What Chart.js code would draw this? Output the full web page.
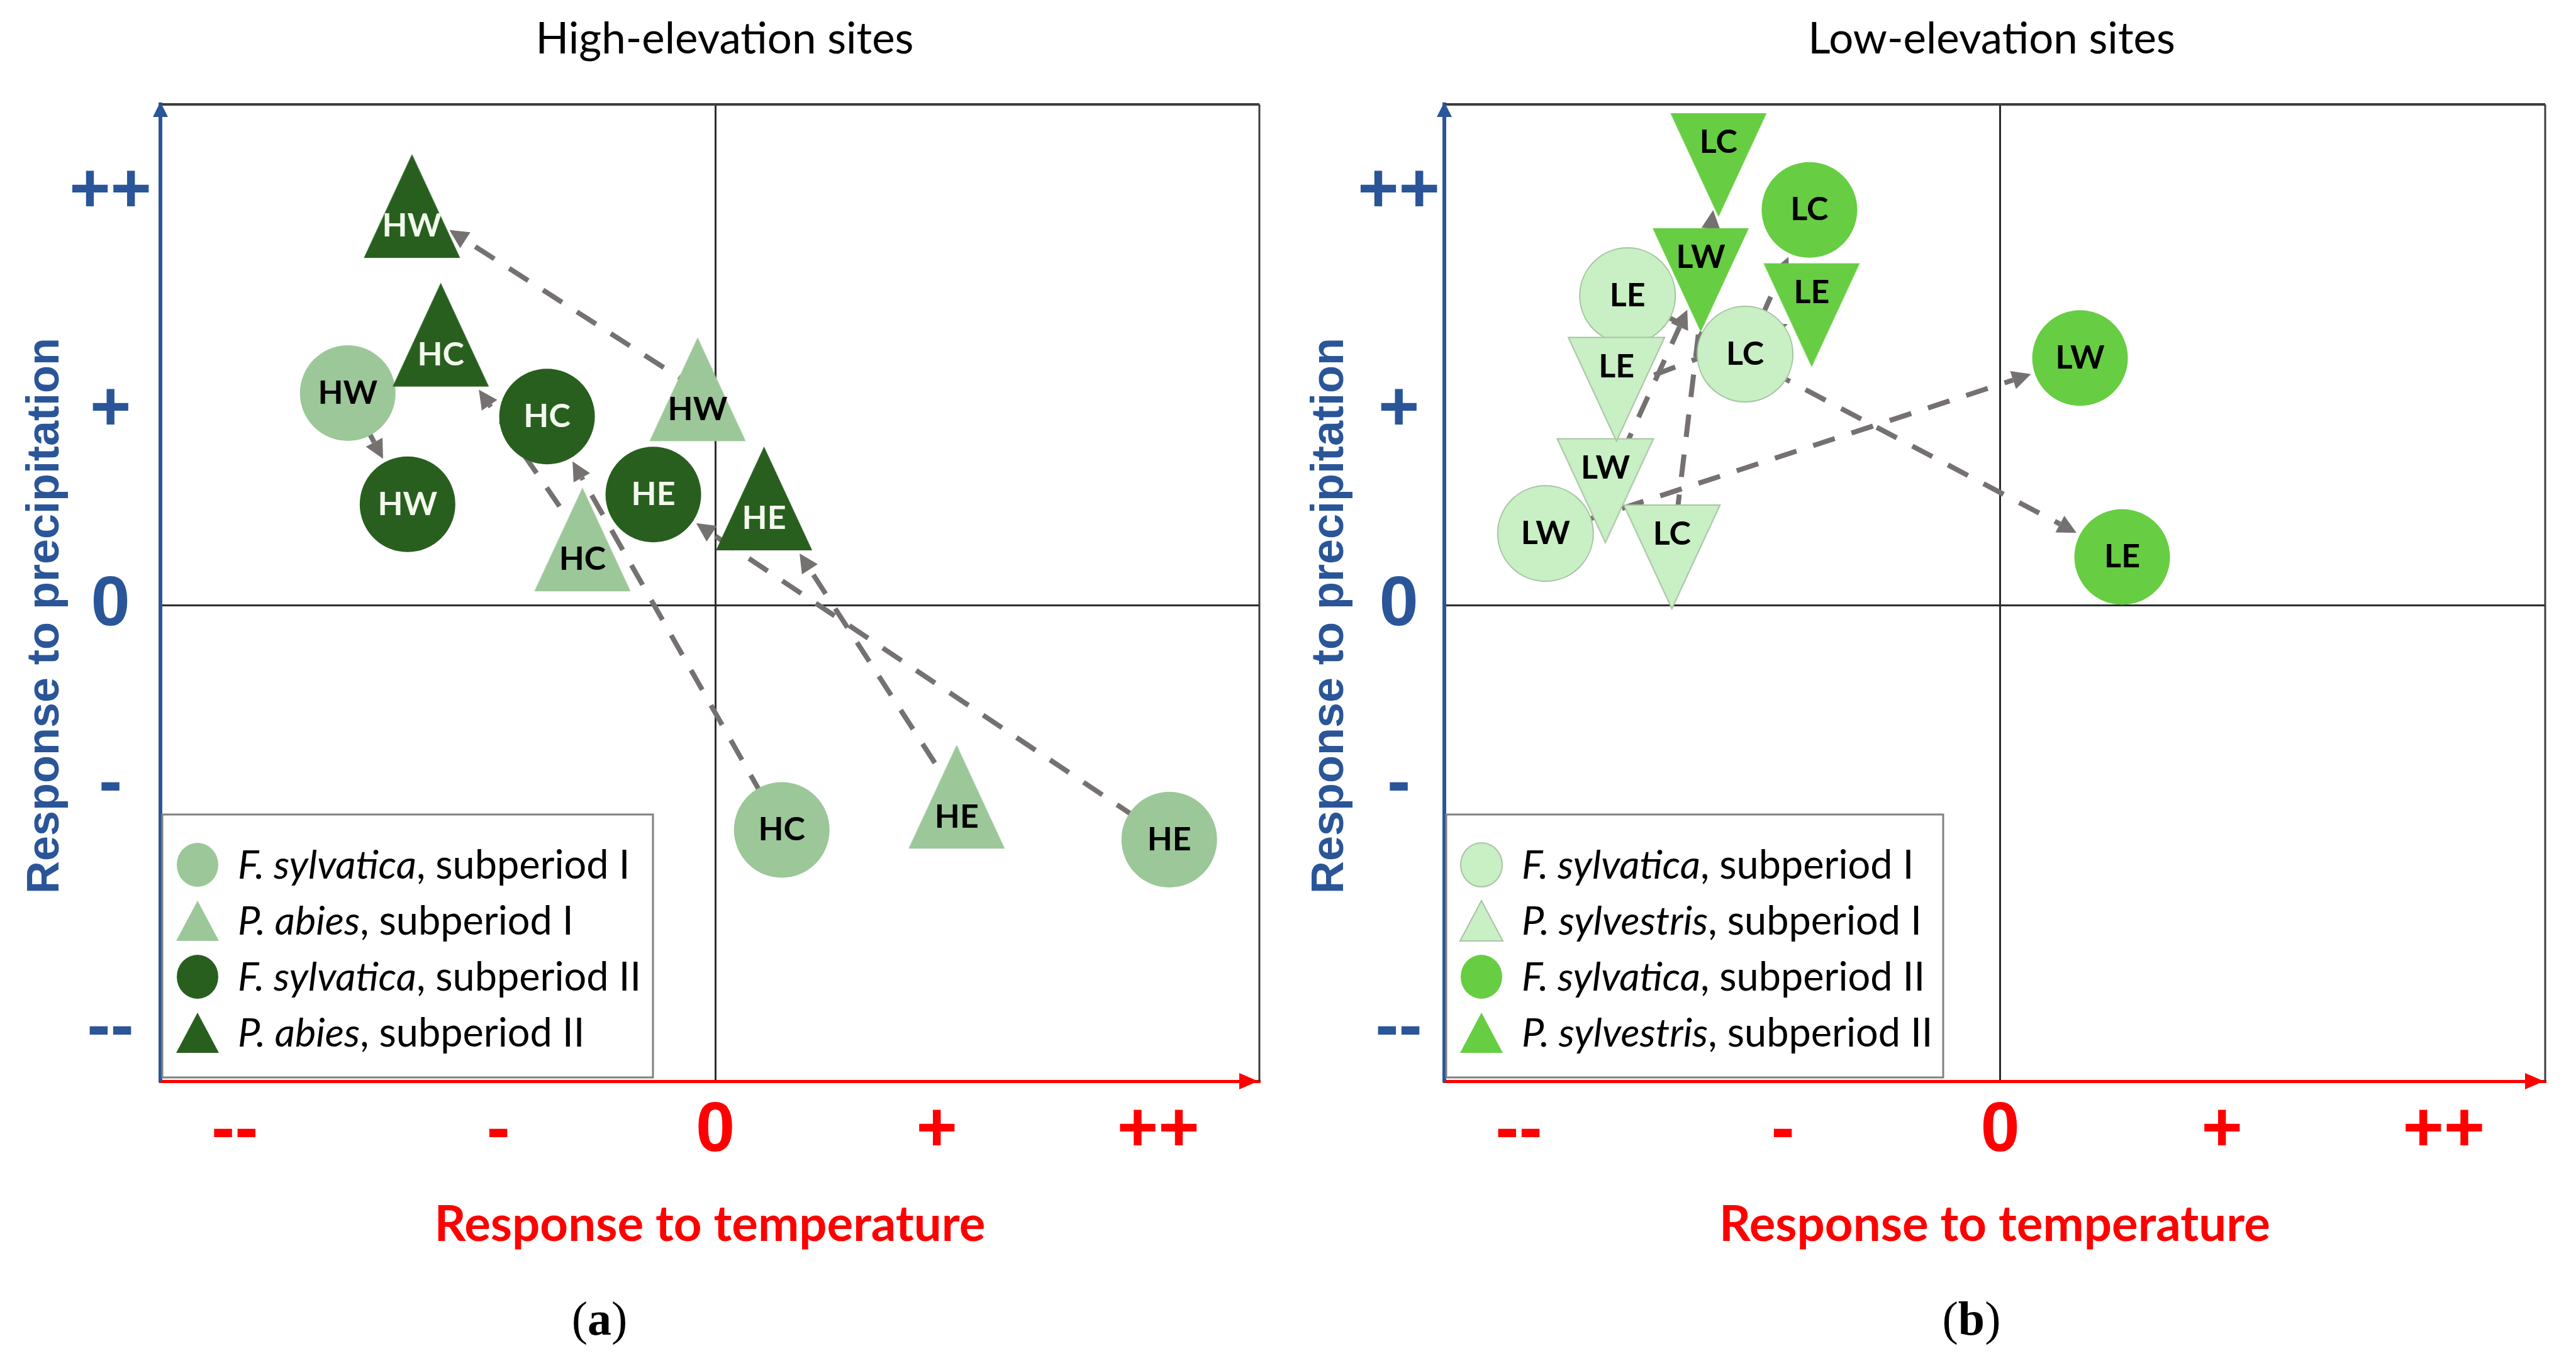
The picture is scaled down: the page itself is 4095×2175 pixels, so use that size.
<!DOCTYPE html>
<html>
<head>
<meta charset="utf-8">
<title>Responses to temperature and precipitation</title>
<script src="https://cdn.jsdelivr.net/npm/chart.js@4.4.1/dist/chart.umd.min.js"></script>
<style>
  html, body { margin: 0; padding: 0; background: #fff; }
  body { width: 4095px; height: 2175px; position: relative; overflow: hidden; }
  .panel { position: absolute; top: 0; height: 2175px; }
  #panel-a { left: 0; width: 2048px; }
  #panel-b { left: 2048px; width: 2047px; }
</style>
</head>
<body>
<div class="panel" id="panel-a"><canvas id="chart-a"></canvas></div>
<div class="panel" id="panel-b"><canvas id="chart-b"></canvas></div>
<script>
const xTickValues = [-2.17, -0.98, 0, 1, 2];
const xTickLabels = ['--', '-', '0', '+', '++'];
const yTickValues = [-2.17, -0.92, 0, 1, 2.12];
const yTickLabels = ['--', '-', '0', '+', '++'];

// high-elevation sites, [temperature, precipitation]
const highCodes = ['HW', 'HC', 'HE'];
const highFagusI = [[-1.66, 1.09], [0.30, -1.15], [2.05, -1.20]];
const highPiceaI = [[-0.08, 1.11], [-0.60, 0.34], [1.09, -0.98]];
const highFagusII = [[-1.39, 0.52], [-0.76, 0.97], [-0.28, 0.57]];
const highPiceaII = [[-1.37, 2.05], [-1.24, 1.39], [0.22, 0.55]];

// low-elevation sites
const lowCodes = ['LW', 'LC', 'LE'];
const lowFagusI = [[-2.05, 0.37], [-1.15, 1.29], [-1.68, 1.59]];
const lowPinusI = [[-1.78, 0.59], [-1.48, 0.25], [-1.73, 1.11]];
const lowFagusII = [[0.36, 1.27], [-0.86, 2.03], [0.55, 0.25]];
const lowPinusII = [[-1.35, 1.67], [-1.27, 2.26], [-0.85, 1.49]];

const BLUE = '#2a5598';
const RED = '#ff0000';
const ARROW = '#767171';
const TRI_W = 153;
const TRI_H = 165;
const CIRCLE_R = 76;

function triangleImage(fill, stroke, down) {
  const c = document.createElement('canvas');
  c.width = TRI_W + 4;
  c.height = TRI_H + 4;
  const g = c.getContext('2d');
  g.beginPath();
  if (down) {
    g.moveTo(2, 2);
    g.lineTo(TRI_W + 2, 2);
    g.lineTo(TRI_W / 2 + 2, TRI_H + 2);
  } else {
    g.moveTo(TRI_W / 2 + 2, 2);
    g.lineTo(TRI_W + 2, TRI_H + 2);
    g.lineTo(2, TRI_H + 2);
  }
  g.closePath();
  g.fillStyle = fill;
  g.fill();
  if (stroke) {
    g.strokeStyle = stroke;
    g.lineWidth = 2;
    g.stroke();
  }
  return c;
}

function series(species, period, points, codes, shape, fill, stroke, textColor) {
  return {
    label: `${species}, subperiod ${period}`,
    legendItalic: species,
    legendRest: `, subperiod ${period}`,
    data: points.map(([x, y]) => ({ x, y })),
    codes,
    shape,
    fillColor: fill,
    strokeColor: stroke,
    labelColor: textColor,
    order: shape === 'circle' ? 1 : 0,
    clip: false,
    showLine: false,
    pointStyle: shape === 'circle' ? 'circle' : triangleImage(fill, stroke, shape === 'down'),
    pointRadius: CIRCLE_R,
    pointHoverRadius: CIRCLE_R,
    pointBackgroundColor: fill,
    pointBorderColor: stroke || fill,
    pointBorderWidth: stroke ? 2 : 0,
  };
}

function edgeDistance(shape, dx, dy) {
  if (shape === 'circle') return CIRCLE_R;
  const h = TRI_H / 2;
  const w = TRI_W / 2;
  const pts = shape === 'up' ? [[0, -h], [w, h], [-w, h]] : [[0, h], [w, -h], [-w, -h]];
  let best = Infinity;
  for (let k = 0; k < 3; k++) {
    const [ax, ay] = pts[k];
    const [bx, by] = pts[(k + 1) % 3];
    const ex = bx - ax;
    const ey = by - ay;
    const den = dx * ey - dy * ex;
    if (Math.abs(den) < 1e-9) continue;
    const t = (ax * ey - ay * ex) / den;
    const s = (ax * dy - ay * dx) / den;
    if (t > 0 && s >= -0.001 && s <= 1.001) best = Math.min(best, t);
  }
  return best === Infinity ? CIRCLE_R : best;
}

function drawArrow(ctx, from, to, shape) {
  const len = Math.hypot(from.x - to.x, from.y - to.y);
  const ux = (from.x - to.x) / len;
  const uy = (from.y - to.y) / len;
  const edge = edgeDistance(shape, ux, uy) + 6;
  const tipX = to.x + ux * edge;
  const tipY = to.y + uy * edge;
  const baseX = tipX + ux * 30;
  const baseY = tipY + uy * 30;

  ctx.save();
  ctx.strokeStyle = ARROW;
  ctx.fillStyle = ARROW;
  ctx.lineWidth = 8;
  ctx.setLineDash([36, 28]);
  ctx.beginPath();
  ctx.moveTo(from.x, from.y);
  ctx.lineTo(baseX, baseY);
  ctx.stroke();
  ctx.setLineDash([]);
  ctx.beginPath();
  ctx.moveTo(tipX, tipY);
  ctx.lineTo(baseX - uy * 15, baseY + ux * 15);
  ctx.lineTo(baseX + uy * 15, baseY - ux * 15);
  ctx.closePath();
  ctx.fill();
  ctx.restore();
}

const decorPlugin = {
  id: 'decor',
  beforeDatasetsDraw(chart, _args, opts) {
    const { ctx, chartArea: a } = chart;
    ctx.save();
    ctx.strokeStyle = '#3d3d3d';
    ctx.lineWidth = 4;
    ctx.beginPath();
    ctx.moveTo(a.left, a.top);
    ctx.lineTo(a.right, a.top);
    ctx.stroke();
    ctx.lineWidth = 3;
    ctx.beginPath();
    ctx.moveTo(a.right, a.top);
    ctx.lineTo(a.right, a.bottom);
    ctx.stroke();
    ctx.restore();

    opts.arrowPairs.forEach(([fromIndex, toIndex]) => {
      const fromMeta = chart.getDatasetMeta(fromIndex);
      const toMeta = chart.getDatasetMeta(toIndex);
      const shape = chart.data.datasets[toIndex].shape;
      toMeta.data.forEach((point, j) => drawArrow(ctx, fromMeta.data[j], point, shape));
    });
  },
  afterDatasetsDraw(chart) {
    const { ctx } = chart;
    ctx.save();
    ctx.font = 'bold 52px Lato';
    ctx.textAlign = 'center';
    ctx.textBaseline = 'middle';
    chart.data.datasets.forEach((ds, i) => {
      const shift = ds.shape === 'up' ? 32 : ds.shape === 'down' ? -36 : 0;
      ctx.fillStyle = ds.labelColor;
      chart.getDatasetMeta(i).data.forEach((p, j) => {
        ctx.fillText(ds.codes[j], p.x, p.y + shift);
      });
    });
    ctx.restore();
  },
  afterDraw(chart, _args, opts) {
    const { ctx, chartArea: a } = chart;
    ctx.save();

    // axis arrowheads
    ctx.fillStyle = BLUE;
    ctx.beginPath();
    ctx.moveTo(a.left, a.top - 4);
    ctx.lineTo(a.left + 12, a.top + 20);
    ctx.lineTo(a.left - 12, a.top + 20);
    ctx.closePath();
    ctx.fill();
    ctx.fillStyle = RED;
    ctx.beginPath();
    ctx.moveTo(a.right - 2, a.bottom);
    ctx.lineTo(a.right - 32, a.bottom - 13);
    ctx.lineTo(a.right - 32, a.bottom + 13);
    ctx.closePath();
    ctx.fill();

    // y axis title
    ctx.save();
    ctx.translate(opts.yTitleX, 979);
    ctx.rotate(-Math.PI / 2);
    ctx.fillStyle = BLUE;
    ctx.font = 'bold 72px "Liberation Sans"';
    ctx.textAlign = 'center';
    ctx.textBaseline = 'middle';
    ctx.fillText('Response to precipitation', 0, 0);
    ctx.restore();

    // legend box
    const left = a.left + 3;
    const top = 1295;
    const bottom = a.bottom - 6;
    ctx.fillStyle = '#fff';
    ctx.fillRect(left, top, opts.legendWidth, bottom - top);
    ctx.strokeStyle = '#808080';
    ctx.lineWidth = 3;
    ctx.strokeRect(left, top, opts.legendWidth, bottom - top);

    ctx.textBaseline = 'middle';
    ctx.textAlign = 'left';
    chart.data.datasets.forEach((ds, i) => {
      const cy = top + 80 + i * 89;
      const cx = left + 56;
      ctx.fillStyle = ds.fillColor;
      ctx.beginPath();
      if (ds.shape === 'circle') {
        ctx.ellipse(cx, cy, 33, 35, 0, 0, Math.PI * 2);
      } else {
        ctx.moveTo(cx, cy - 32);
        ctx.lineTo(cx + 34, cy + 32);
        ctx.lineTo(cx - 34, cy + 32);
        ctx.closePath();
      }
      ctx.fill();
      if (ds.strokeColor) {
        ctx.strokeStyle = ds.strokeColor;
        ctx.lineWidth = 2;
        ctx.stroke();
      }
      ctx.fillStyle = '#000';
      ctx.font = 'italic 63px Lato';
      ctx.fillText(ds.legendItalic, left + 120, cy + 2);
      const w = ctx.measureText(ds.legendItalic).width;
      ctx.font = '63px Lato';
      ctx.fillText(ds.legendRest, left + 120 + w, cy + 2);
    });

    // panel title
    ctx.fillStyle = '#000';
    ctx.textAlign = 'center';
    ctx.font = '69px Lato';
    ctx.fillText(opts.title, opts.titleX, 63);

    // caption (a) / (b)
    const parts = [['(', '76px "Liberation Serif"'], [opts.caption, 'bold 76px "Liberation Serif"'], [')', '76px "Liberation Serif"']];
    let total = 0;
    parts.forEach(([t, f]) => { ctx.font = f; total += ctx.measureText(t).width; });
    let x = opts.captionX - total / 2;
    ctx.textAlign = 'left';
    parts.forEach(([t, f]) => {
      ctx.font = f;
      ctx.fillText(t, x, 2102);
      x += ctx.measureText(t).width;
    });
    ctx.restore();
  },
};

function zeroLine(c) {
  return c.tick && c.tick.value === 0 ? '#2b2b2b' : 'rgba(0,0,0,0)';
}

function makePanel(canvasId, datasets, p) {
  return new Chart(document.getElementById(canvasId), {
    type: 'scatter',
    data: { datasets },
    plugins: [decorPlugin],
    options: {
      responsive: true,
      maintainAspectRatio: false,
      animation: false,
      events: [],
      layout: { autoPadding: false, padding: { top: 166, right: p.padRight, bottom: 0, left: 0 } },
      plugins: {
        legend: { display: false },
        tooltip: { enabled: false },
        decor: {
          title: p.title,
          titleX: p.titleX,
          yTitleX: p.yTitleX,
          caption: p.caption,
          captionX: p.captionX,
          legendWidth: p.legendWidth,
          arrowPairs: [[0, 2], [1, 3]],
        },
      },
      scales: {
        x: {
          type: 'linear',
          min: -2.506,
          max: 2.457,
          afterBuildTicks: (s) => { s.ticks = xTickValues.map((v) => ({ value: v })); },
          afterFit: (s) => { s.height = 456; },
          ticks: {
            callback: (_v, i) => xTickLabels[i],
            color: RED,
            font: { family: 'Liberation Sans', size: 112, weight: 'bold' },
            padding: 13,
            autoSkip: false,
            maxRotation: 0,
            minRotation: 0,
          },
          grid: { drawTicks: false, color: zeroLine, lineWidth: 3 },
          border: { color: RED, width: 5 },
          title: {
            display: true,
            text: 'Response to temperature',
            color: RED,
            font: { family: 'Lato', size: 78, weight: 'bold' },
            padding: { top: 0, bottom: 180 },
          },
        },
        y: {
          type: 'linear',
          min: -2.439,
          max: 2.571,
          afterBuildTicks: (s) => { s.ticks = yTickValues.map((v) => ({ value: v })); },
          afterFit: (s) => { s.width = p.axisWidth; },
          ticks: {
            callback: (_v, i) => yTickLabels[i],
            color: BLUE,
            font: { family: 'Liberation Sans', size: 112, weight: 'bold' },
            padding: p.yTickPad,
            crossAlign: 'center',
            autoSkip: false,
          },
          grid: { drawTicks: false, color: zeroLine, lineWidth: 3 },
          border: { color: BLUE, width: 6 },
        },
      },
    },
  });
}

const highLight = '#9cc799';
const highDark = '#285f1f';
const lowPale = '#c9efc5';
const lowPaleEdge = '#a6c4a2';
const lowGreen = '#67cd43';

makePanel('chart-a', [
  series('F. sylvatica', 'I', highFagusI, highCodes, 'circle', highLight, null, '#000'),
  series('P. abies', 'I', highPiceaI, highCodes, 'up', highLight, null, '#000'),
  series('F. sylvatica', 'II', highFagusII, highCodes, 'circle', highDark, null, '#f2f9ec'),
  series('P. abies', 'II', highPiceaII, highCodes, 'up', highDark, null, '#f2f9ec'),
], {
  padRight: 46, axisWidth: 255, yTickPad: 14, yTitleX: 73,
  title: 'High-elevation sites', titleX: 1152, caption: 'a', captionX: 953, legendWidth: 780,
});

makePanel('chart-b', [
  series('F. sylvatica', 'I', lowFagusI, lowCodes, 'circle', lowPale, lowPaleEdge, '#000'),
  series('P. sylvestris', 'I', lowPinusI, lowCodes, 'down', lowPale, lowPaleEdge, '#000'),
  series('F. sylvatica', 'II', lowFagusII, lowCodes, 'circle', lowGreen, null, '#000'),
  series('P. sylvestris', 'II', lowPinusII, lowCodes, 'down', lowGreen, null, '#000'),
], {
  padRight: 49, axisWidth: 248, yTickPad: 7, yTitleX: 67,
  title: 'Low-elevation sites', titleX: 1118, caption: 'b', captionX: 1086, legendWidth: 790,
});
</script>
</body>
</html>
